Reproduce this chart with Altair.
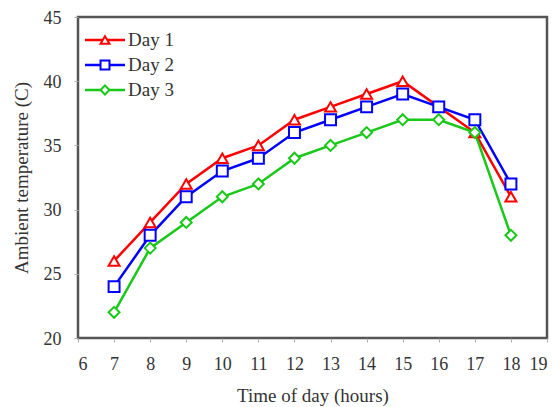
import altair as alt
import pandas as pd

hours = [7, 8, 9, 10, 11, 12, 13, 14, 15, 16, 17, 18]
day1 = [26, 29, 32, 34, 35, 37, 38, 39, 40, 38, 36, 31]
day2 = [24, 28, 31, 33, 34, 36, 37, 38, 39, 38, 37, 32]
day3 = [22, 27, 29, 31, 32, 34, 35, 36, 37, 37, 36, 28]
series = ["Day 1", "Day 2", "Day 3"]
colors = ["#ff0000", "#0000ff", "#19c819"]
shapes = ["triangle-up", "square", "diamond"]
x_ticks = list(range(6, 20))
y_ticks = [20, 25, 30, 35, 40, 45]

rows = []
for name, vals in zip(series, [day1, day2, day3]):
    for h, v in zip(hours, vals):
        rows.append({"hour": h, "temp": v, "day": name})
df = pd.DataFrame(rows)

FONT = "Liberation Serif, Times New Roman, serif"
W, H = 469, 321

xs = alt.X("hour:Q", scale=alt.Scale(domain=[6, 19], nice=False),
           axis=alt.Axis(values=x_ticks, title="Time of day (hours)", grid=False,
                         labelFont=FONT, labelFontSize=18, labelColor="#333",
                         titleFont=FONT, titleFontSize=19, titleFontWeight="normal",
                         titleColor="#333", titlePadding=13, tickSize=4,
                         tickColor="#aaa", domain=False, labelPadding=13))
ys = alt.Y("temp:Q", scale=alt.Scale(domain=[20, 45], nice=False),
           axis=alt.Axis(values=y_ticks, title="Ambient temperature (C)", grid=False,
                         labelFont=FONT, labelFontSize=18, labelColor="#333",
                         titleFont=FONT, titleFontSize=19, titleFontWeight="normal",
                         titleColor="#333", titlePadding=12, tickSize=4,
                         tickColor="#aaa", domain=False, labelPadding=13,
                         labelBaseline="middle", labelOffset=1))
col = alt.Color("day:N", scale=alt.Scale(domain=series, range=colors), legend=None)
stk = alt.Stroke("day:N", scale=alt.Scale(domain=series, range=colors), legend=None)
shp = alt.Shape("day:N", scale=alt.Scale(domain=series, range=shapes), legend=None)

lines = alt.Chart(df).mark_line(strokeWidth=2.5).encode(x=xs, y=ys, color=col,
                                                        order=alt.Order("hour:Q"))
points = alt.Chart(df).mark_point(size=120, strokeWidth=2, filled=False, fill="white",
                                  fillOpacity=1, opacity=1).encode(
    x=xs, y=ys, stroke=stk, shape=shp)
data_layer = alt.layer(lines, points)

leg_df = pd.DataFrame({"day": series, "row": [0, 1, 2]})
leg_y = alt.Y("row:Q", scale=alt.Scale(domain=[0, 2], range=[23, 73]), axis=None)
leg_rule = alt.Chart(leg_df).mark_rule(strokeWidth=2.5).encode(
    x=alt.value(7), x2=alt.value(47), y=leg_y, color=col)
leg_pt = alt.Chart(leg_df).mark_point(size=80, strokeWidth=2, fill="white",
                                       fillOpacity=1, opacity=1).encode(
    x=alt.value(27), y=leg_y, stroke=stk, shape=shp)
leg_txt = alt.Chart(leg_df).mark_text(align="left", baseline="middle", font=FONT,
                                      fontSize=19, color="#333").encode(
    x=alt.value(50), y=leg_y, text="day:N")
legend_layer = alt.layer(leg_rule, leg_pt, leg_txt)

chart = alt.layer(data_layer, legend_layer).resolve_scale(
    y="independent").properties(
    width=W, height=H,
    autosize=alt.AutoSizeParams(type="none"),
    padding={"left": 78, "top": 17, "right": 13, "bottom": 69},
    background="white",
).configure_view(stroke="#555", strokeWidth=2.5)

chart.save("out.html", embed_options={"renderer": "svg", "actions": False})
